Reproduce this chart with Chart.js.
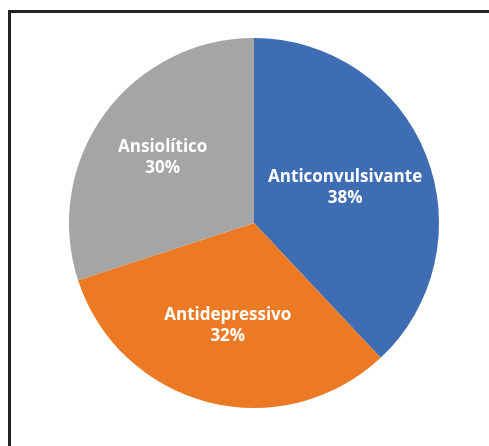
<!DOCTYPE html>
<html>
<head>
<meta charset="utf-8">
<script src="https://cdn.jsdelivr.net/npm/chart.js@4"></script>
<style>
  html, body { margin: 0; padding: 0; background: #fff; }
  #wrap { position: relative; width: 489px; height: 446px; }
  #frame {
    position: absolute; left: 8px; top: 10px; right: 0; bottom: 0;
    border-top: 3px solid #222; border-left: 3px solid #222;
  }
  canvas { position: absolute; left: 0; top: 0; }
</style>
</head>
<body>
<div id="wrap">
  <div id="frame"></div>
  <canvas id="pie" width="489" height="446"></canvas>
</div>
<script>
const categories = ['Anticonvulsivante', 'Antidepressivo', 'Ansiolítico'];
const values = [38, 32, 30];
const colors = ['#3F6DB4', '#EC7A24', '#A5A5A5'];
// how far out (fraction of radius) each label sits
const labelRadius = [0.53, 0.57, 0.61];

// Labels drawn inside each slice: name + percentage
const sliceLabels = {
  id: 'sliceLabels',
  afterDatasetsDraw(chart) {
    const ctx = chart.ctx;
    const meta = chart.getDatasetMeta(0);
    ctx.save();
    ctx.fillStyle = '#fff';
    ctx.font = 'bold 17px "Open Sans"';
    ctx.textAlign = 'center';
    ctx.textBaseline = 'middle';
    meta.data.forEach((arc, i) => {
      const p = arc.getProps(['x', 'y', 'startAngle', 'endAngle', 'outerRadius']);
      const mid = (p.startAngle + p.endAngle) / 2;
      const r = p.outerRadius * labelRadius[i];
      const x = p.x + Math.cos(mid) * r;
      const y = p.y + Math.sin(mid) * r;
      ctx.fillText(categories[i], x, y - 10);
      ctx.fillText(values[i] + '%', x, y + 11);
    });
    ctx.restore();
  }
};

new Chart(document.getElementById('pie'), {
  type: 'pie',
  data: {
    labels: categories,
    datasets: [{
      data: values,
      backgroundColor: colors,
      borderWidth: 0
    }]
  },
  options: {
    responsive: false,
    animation: false,
    layout: { padding: { top: 38, bottom: 38, left: 69, right: 50 } },
    plugins: {
      legend: { display: false },
      tooltip: { enabled: false }
    }
  },
  plugins: [sliceLabels]
});
</script>
</body>
</html>
